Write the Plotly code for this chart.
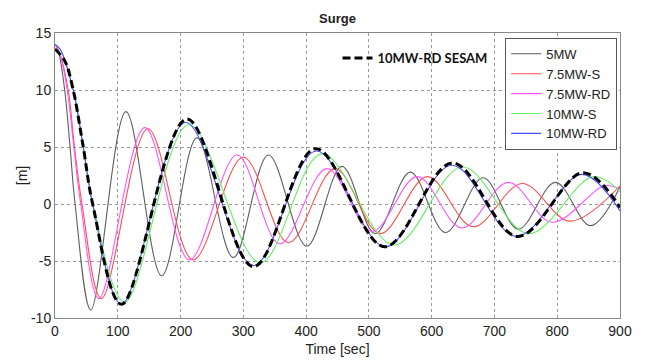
import plotly.graph_objects as go

# ---- data (start of release, first descent, then extrema) ----
t_5mw = [0, 5, 15.4, 24, 32, 57, 113, 170, 226, 284, 340, 401, 457, 510, 566, 622, 682, 738, 797, 853, 900]
y_5mw = [14.0, 13.5, 10.0, 5.0, 0.0, -9.3, 8.1, -6.3, 5.8, -4.7, 4.3, -3.7, 3.3, -2.6, 2.8, -2.5, 2.3, -2.2, 1.9, -1.9, 1.5]

t_75s = [0, 7, 21, 31, 43, 74, 148, 220, 300, 372, 446, 518, 593, 666, 744, 820, 900]
y_75s = [14.0, 13.3, 10.0, 5.0, 0.0, -8.3, 6.6, -4.9, 4.1, -3.4, 3.1, -2.6, 2.4, -2.0, 1.8, -1.5, 1.6]

t_75rd = [0, 7, 19.5, 30, 41, 70, 143, 214, 290, 358, 433, 505, 577, 648, 722, 792, 875, 900]
y_75rd = [14.0, 13.3, 10.0, 5.0, 0.0, -8.3, 6.7, -4.9, 4.3, -3.5, 3.1, -2.4, 2.4, -2.1, 1.9, -1.6, 1.6, 1.3]

t_10s = [0, 8, 29, 45, 60, 111, 213, 327, 425, 540, 649, 754, 857, 900]
y_10s = [14.0, 13.6, 10.0, 5.0, 0.0, -8.6, 6.95, -5.15, 4.4, -3.6, 3.25, -2.6, 2.4, 1.1]

t_10rd = [0, 8, 29, 45, 60, 106, 208, 316, 416, 526, 632, 735, 839, 900]
y_10rd = [14.0, 13.6, 10.0, 5.0, 0.0, -8.8, 7.15, -5.4, 4.65, -3.75, 3.4, -2.85, 2.6, -0.6]

t_sesam = [0, 16, 29, 45, 60, 106, 210, 316, 415, 525, 633, 737, 841, 900]
y_sesam = [13.6, 12.5, 10.0, 5.0, 0.0, -8.8, 7.45, -5.5, 4.85, -3.75, 3.6, -2.85, 2.75, -0.3]

x_ticks = [0, 100, 200, 300, 400, 500, 600, 700, 800, 900]
y_ticks = [-10, -5, 0, 5, 10, 15]

series = [
    ("5MW", t_5mw, y_5mw, "#5e5e5e"),
    ("7.5MW-S", t_75s, y_75s, "#ff4d4d"),
    ("7.5MW-RD", t_75rd, y_75rd, "#ff55ff"),
    ("10MW-S", t_10s, y_10s, "#66ee66"),
    ("10MW-RD", t_10rd, y_10rd, "#4b4bff"),
]

fig = go.Figure()
for name, t, y, c in series:
    fig.add_trace(go.Scatter(
        x=t, y=y, name=name, mode="lines",
        line=dict(color=c, width=1.1, shape="spline", smoothing=1.0),
        legend="legend",
    ))

fig.add_trace(go.Scatter(
    x=t_sesam, y=y_sesam, name="<b>10MW-RD SESAM</b>", mode="lines",
    line=dict(color="black", width=3, dash="8px,4px", shape="spline", smoothing=1.0),
    legend="legend2",
))

font_main = "Liberation Sans, Arial, sans-serif"

fig.update_layout(
    width=646, height=363,
    margin=dict(l=55, r=26, t=33, b=45, autoexpand=False),
    paper_bgcolor="white", plot_bgcolor="white",
    font=dict(family=font_main, size=14, color="#222222"),
    title=dict(text="<b>Surge</b>", x=0.5, xref="paper", y=1 - 18 / 363,
               yanchor="middle", xanchor="center",
               font=dict(family=font_main, size=13, color="#222222")),
    legend=dict(x=0.995, xanchor="right", y=0.983, yanchor="top",
                bgcolor="white", bordercolor="#555555", borderwidth=1,
                font=dict(family=font_main, size=13, color="#222222"),
                itemwidth=30, tracegroupgap=0),
    legend2=dict(x=0.50, xanchor="left", y=0.965, yanchor="top",
                 bgcolor="rgba(0,0,0,0)", borderwidth=0,
                 font=dict(family="Lato, Liberation Sans, sans-serif", size=13, color="#111111"),
                 itemwidth=30),
    showlegend=True,
)

fig.update_xaxes(
    range=[0, 900], tickvals=x_ticks, ticktext=[str(v) for v in x_ticks],
    showgrid=True, gridcolor="#9a9a9a", griddash="dot", gridwidth=1,
    showline=True, linecolor="#888888", linewidth=1, mirror=True,
    zeroline=False, ticks="", tickfont=dict(size=14), automargin=False,
    title=dict(text="Time [sec]", standoff=6, font=dict(size=14)),
)
fig.update_yaxes(
    range=[-10, 15], tickvals=y_ticks, ticktext=[str(v) for v in y_ticks],
    showgrid=True, gridcolor="#9a9a9a", griddash="dot", gridwidth=1,
    showline=True, linecolor="#888888", linewidth=1, mirror=True,
    zeroline=False, ticks="", tickfont=dict(size=14), automargin=False,
    title=dict(text="[m]", standoff=0, font=dict(size=14)),
)

fig.write_html("out.html")
